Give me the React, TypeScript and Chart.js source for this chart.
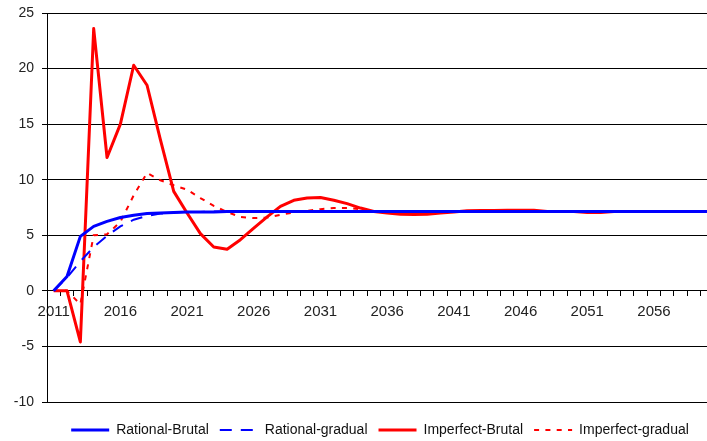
import React, { useEffect, useRef } from 'react';
import { Chart, registerables } from 'chart.js';

Chart.register(...registerables);

const years: string[] = [
  '2011', '2012', '2013', '2014', '2015', '2016', '2017', '2018', '2019', '2020',
  '2021', '2022', '2023', '2024', '2025', '2026', '2027', '2028', '2029', '2030',
  '2031', '2032', '2033', '2034', '2035', '2036', '2037', '2038', '2039', '2040',
  '2041', '2042', '2043', '2044', '2045', '2046', '2047', '2048', '2049', '2050',
  '2051', '2052', '2053', '2054', '2055', '2056', '2057', '2058', '2059', '2060',
];

const rationalBrutal: number[] = [
  0, 1.3, 4.9, 5.8, 6.25, 6.6, 6.8, 6.95, 7.0, 7.05,
  7.1, 7.1, 7.1, 7.15, 7.15, 7.15, 7.15, 7.15, 7.15, 7.15,
  7.15, 7.15, 7.15, 7.15, 7.15, 7.15, 7.15, 7.15, 7.15, 7.15,
  7.15, 7.15, 7.15, 7.15, 7.15, 7.15, 7.15, 7.15, 7.15, 7.15,
  7.15, 7.15, 7.15, 7.15, 7.15, 7.15, 7.15, 7.15, 7.15, 7.15,
];

const rationalGradual: number[] = [
  0, 1.2, 2.65, 3.95, 4.95, 5.8, 6.4, 6.75, 6.95, 7.05,
  7.1, 7.1, 7.15, 7.15, 7.15, 7.15, 7.15, 7.15, 7.15, 7.15,
  7.15, 7.15, 7.15, 7.15, 7.15, 7.15, 7.15, 7.15, 7.15, 7.15,
  7.15, 7.15, 7.15, 7.15, 7.15, 7.15, 7.15, 7.15, 7.15, 7.15,
  7.15, 7.15, 7.15, 7.15, 7.15, 7.15, 7.15, 7.15, 7.15, 7.15,
];

const imperfectBrutal: number[] = [
  0, 0, -4.6, 23.6, 12.0, 15.0, 20.3, 18.5, 13.6, 8.95,
  7.0, 5.15, 3.95, 3.75, 4.6, 5.65, 6.65, 7.6, 8.15, 8.35,
  8.4, 8.15, 7.85, 7.45, 7.15, 7.0, 6.9, 6.88, 6.9, 7.0,
  7.1, 7.2, 7.22, 7.22, 7.25, 7.25, 7.25, 7.15, 7.15, 7.15,
  7.05, 7.05, 7.15, 7.15, 7.15, 7.15, 7.15, 7.15, 7.15, 7.15,
];

const imperfectGradual: number[] = [
  0, 0, -1.2, 5.0, 5.1, 6.2, 8.6, 10.6, 9.95, 9.5,
  9.1, 8.35, 7.65, 7.1, 6.65, 6.55, 6.6, 6.85, 7.05, 7.2,
  7.35, 7.45, 7.45, 7.35, 7.2, 7.1, 7.05, 7.0, 7.0, 7.05,
  7.1, 7.15, 7.15, 7.15, 7.15, 7.15, 7.15, 7.15, 7.15, 7.15,
  7.15, 7.15, 7.15, 7.15, 7.15, 7.15, 7.15, 7.15, 7.15, 7.15,
];

const yTickValues: number[] = [-10, -5, 0, 5, 10, 15, 20, 25];
const labelEvery = 5;

const FONT = 'Liberation Sans, Arial, sans-serif';

export default function App() {
  const ref = useRef<HTMLCanvasElement | null>(null);

  useEffect(() => {
    if (!ref.current) return;
    const chart = new Chart(ref.current, {
      type: 'line',
      data: {
        labels: years,
        datasets: [
          {
            label: 'Rational-Brutal',
            data: rationalBrutal,
            borderColor: '#0000FF',
            backgroundColor: '#0000FF',
            borderWidth: 3,
            pointRadius: 0,
            tension: 0,
            fill: false,
            borderJoinStyle: 'round',
          },
          {
            label: 'Rational-gradual',
            data: rationalGradual,
            borderColor: '#0000FF',
            backgroundColor: '#0000FF',
            borderWidth: 2,
            borderDash: [12, 9],
            pointRadius: 0,
            tension: 0,
            fill: false,
          },
          {
            label: 'Imperfect-Brutal',
            data: imperfectBrutal,
            borderColor: '#FF0000',
            backgroundColor: '#FF0000',
            borderWidth: 3,
            pointRadius: 0,
            tension: 0,
            fill: false,
            borderJoinStyle: 'round',
          },
          {
            label: 'Imperfect-gradual',
            data: imperfectGradual,
            borderColor: '#FF0000',
            backgroundColor: '#FF0000',
            borderWidth: 2,
            borderDash: [5, 6.3],
            pointRadius: 0,
            tension: 0,
            fill: false,
          },
        ],
      },
      options: {
        responsive: false,
        animation: false,
        events: [],
        layout: { padding: { left: 11, top: 13, right: 21, bottom: 0 } },
        plugins: {
          tooltip: { enabled: false },
          legend: {
            position: 'bottom',
            labels: {
              usePointStyle: true,
              pointStyle: 'line',
              pointStyleWidth: 38,
              padding: 11,
              color: '#111',
              font: { family: FONT, size: 14 },
              generateLabels: (c: any) => {
                const items = (Chart.defaults as any).plugins.legend.labels.generateLabels(c);
                return items.map((it: any) => {
                  const ds: any = c.data.datasets[it.datasetIndex];
                  return {
                    ...it,
                    lineDash: ds.borderDash || [],
                    lineWidth: ds.borderWidth,
                    strokeStyle: ds.borderColor,
                    fillStyle: ds.borderColor,
                    fontColor: '#111',
                  };
                });
              },
            },
          },
        },
        scales: {
          x: {
            type: 'category',
            position: { y: 0 },
            offset: true,
            grid: {
              offset: true,
              drawOnChartArea: false,
              drawTicks: true,
              tickLength: 5,
              color: '#000',
            },
            border: { display: true, color: '#000', width: 1 },
            ticks: {
              autoSkip: false,
              maxRotation: 0,
              minRotation: 0,
              padding: 7,
              color: '#222',
              font: { family: FONT, size: 15 },
              callback: (_v: any, i: number) => (i % labelEvery === 0 ? years[i] : ''),
            },
          },
          y: {
            type: 'linear',
            min: -10,
            max: 25,
            afterBuildTicks: (s: any) => {
              s.ticks = yTickValues.map((v) => ({ value: v }));
            },
            afterFit: (s: any) => {
              s.width = 36;
              s.paddingTop = 0;
              s.paddingBottom = 0;
            },
            grid: { color: '#000', tickLength: 5, lineWidth: 1 },
            border: { display: true, color: '#000', width: 1 },
            ticks: {
              padding: 8,
              color: '#222',
              font: { family: FONT, size: 14 },
            },
          },
          gap: {
            type: 'linear',
            axis: 'x',
            position: 'bottom',
            min: 0,
            max: 1,
            display: true,
            grid: { display: false, drawTicks: false },
            border: { display: false },
            ticks: { display: false },
            afterFit: (s: any) => {
              s.height = 10;
            },
          },
          rgap: {
            type: 'linear',
            axis: 'y',
            position: 'right',
            min: 0,
            max: 1,
            display: true,
            grid: { display: false, drawTicks: false },
            border: { display: false },
            ticks: { display: false },
            afterFit: (s: any) => {
              s.width = 35;
              s.paddingTop = 0;
              s.paddingBottom = 0;
            },
          },
        },
      } as any,
    });
    return () => chart.destroy();
  }, []);

  return (
    <div
      style={{
        position: 'absolute',
        left: 0,
        top: 0,
        width: 707,
        height: 441,
        overflow: 'hidden',
        background: '#fff',
      }}
    >
      <canvas ref={ref} width={770} height={447} style={{ display: 'block' }} />
    </div>
  );
}
